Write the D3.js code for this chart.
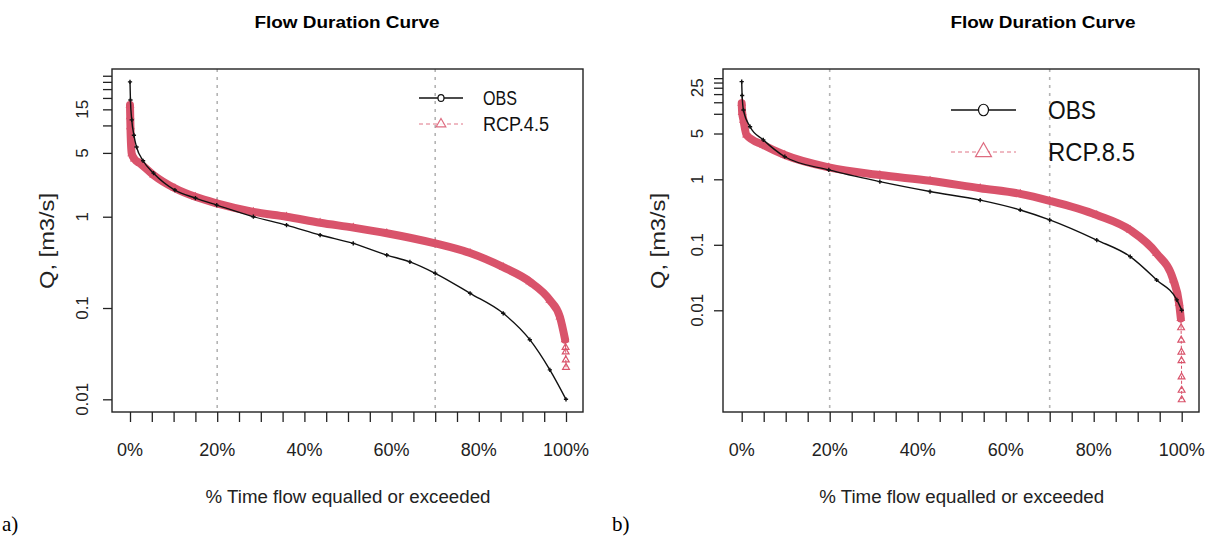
<!DOCTYPE html>
<html>
<head>
<meta charset="utf-8">
<script src="https://cdn.jsdelivr.net/npm/d3@7"></script>
<style>
  body { margin: 0; background: #fff; }
  svg { display: block; font-family: "Liberation Sans", Arial, sans-serif; }
</style>
</head>
<body>
<svg id="fig" width="1211" height="541"></svg>
<script>
// ---- data ----
const xTicks = [0, 5, 10, 15, 20, 25, 30, 35, 40, 45, 50, 55, 60, 65, 70, 75, 80, 85, 90, 95, 100];
const xTickLabels = [0, 20, 40, 60, 80, 100];
const refLines = [20, 70];
const yTicks = [0.01, 0.1, 1, 5, 10, 15, 20, 25, 30, 35];
const yLabelsA = [0.01, 0.1, 1, 5, 15];
const yLabelsB = [0.01, 0.1, 1, 5, 25];

// panel a) observed vs RCP 4.5
const pctObsA = [0, 0.1, 0.4, 0.9, 1.5, 3, 5.4, 10.3, 15, 19.9, 28.3, 35.9, 43.6, 51.2, 58.9, 64.2, 70, 78, 85.6, 91.7, 96.3, 100];
const obsA    = [30, 19, 11.5, 7.8, 5.8, 4.1, 3.0, 1.96, 1.6, 1.34, 1.0, 0.81, 0.63, 0.51, 0.38, 0.32, 0.24, 0.145, 0.0875, 0.045, 0.021, 0.01];
const pctRcp45 = [0, 0.05, 0.1, 0.4, 1, 2.3, 5.4, 10.3, 15, 19.9, 28.3, 35.9, 43.6, 51.2, 58.9, 70, 78, 85.6, 91.7, 96.3, 98.6, 99.8, 99.9, 99.93, 99.96, 100];
const rcp45    = [16.7, 12.5, 9.7, 4.9, 4.3, 3.85, 2.86, 2.05, 1.65, 1.40, 1.13, 1.0, 0.86, 0.76, 0.66, 0.51, 0.40, 0.28, 0.194, 0.122, 0.080, 0.045, 0.037, 0.033, 0.027, 0.0224];

// panel b) observed vs RCP 8.5
const pctObsB = [0, 0.1, 0.4, 1.9, 4.9, 9.8, 19.8, 31.4, 42.8, 54.2, 63.3, 70, 80.7, 88.3, 94.3, 98.9, 100];
const obsB    = [31, 19, 11.4, 6.35, 4.0, 2.21, 1.39, 0.92, 0.65, 0.48, 0.34, 0.24, 0.118, 0.066, 0.029, 0.0144, 0.01];
const pctRcp85 = [0, 0.1, 0.4, 1.1, 4.9, 9.8, 19.8, 31.4, 42.8, 54.2, 63.3, 70, 80.7, 88.3, 94.3, 98.1, 99.4, 99.8, 99.86, 99.9, 99.93, 99.95, 99.97, 99.98, 100];
const rcp85    = [14.5, 10.5, 8.0, 4.75, 3.34, 2.35, 1.52, 1.16, 0.95, 0.73, 0.60, 0.47, 0.285, 0.168, 0.074, 0.029, 0.0128, 0.0075, 0.0054, 0.0035, 0.0023, 0.0017, 0.00096, 0.0006, 0.00043];

const pink = "#d9536b";
const svg = d3.select("#fig");

function drawPanel(cfg) {
    const g = svg.append("g");
    const x = d3.scaleLinear().domain([0, 100]).range(cfg.xRange);
    const y = d3.scaleLog().domain(cfg.yDomain).range([cfg.box.y1, cfg.box.y0]);

    // title
    g.append("text")
        .attr("x", cfg.titleX).attr("y", 28)
        .attr("text-anchor", "middle")
        .attr("font-size", 16).attr("font-weight", "bold")
        .attr("textLength", 185).attr("lengthAdjust", "spacingAndGlyphs")
        .text("Flow Duration Curve");

    // x axis ticks
    const xAxis = d3.axisBottom(x).tickValues(xTicks).tickSize(10).tickFormat("");
    g.append("g")
        .attr("transform", "translate(0," + cfg.box.y1 + ")")
        .call(xAxis)
        .call(a => a.select(".domain").remove())
        .call(a => a.selectAll("line").attr("stroke", "#222").attr("stroke-width", 1.3));
    g.selectAll(".xlab").data(xTickLabels).enter().append("text")
        .attr("x", d => x(d)).attr("y", 456)
        .attr("text-anchor", "middle")
        .attr("font-size", 18).attr("fill", "#222")
        .text(d => d + "%");
    g.append("text")
        .attr("x", x(50)).attr("y", 503)
        .attr("text-anchor", "middle")
        .attr("font-size", 18).attr("fill", "#222")
        .attr("textLength", 285).attr("lengthAdjust", "spacingAndGlyphs")
        .text("% Time flow equalled or exceeded");

    // y axis ticks
    const yAxis = d3.axisLeft(y).tickValues(yTicks).tickSize(9).tickFormat("");
    g.append("g")
        .attr("transform", "translate(" + cfg.box.x0 + ",0)")
        .call(yAxis)
        .call(a => a.select(".domain").remove())
        .call(a => a.selectAll("line").attr("stroke", "#222").attr("stroke-width", 1.3));
    g.selectAll(".ylab").data(cfg.yLabels).enter().append("text")
        .attr("transform", d => "translate(" + cfg.yLabX + "," + y(d) + ") rotate(-90)")
        .attr("text-anchor", "middle")
        .attr("font-size", 17).attr("fill", "#222")
        .text(d => d);
    g.append("text")
        .attr("transform", "translate(" + cfg.yTitleX + ",241) rotate(-90)")
        .attr("text-anchor", "middle")
        .attr("font-size", 20).attr("fill", "#222")
        .attr("textLength", 96).attr("lengthAdjust", "spacingAndGlyphs")
        .text("Q, [m3/s]");

    // reference lines
    g.selectAll(".ref").data(refLines).enter().append("line")
        .attr("x1", d => x(d)).attr("x2", d => x(d))
        .attr("y1", cfg.box.y0).attr("y2", cfg.box.y1)
        .attr("stroke", "#b4b4b4").attr("stroke-width", 1.6)
        .attr("stroke-dasharray", "3,5");

    const line = d3.line().x(d => x(d[0])).y(d => y(d[1])).curve(d3.curveMonotoneX);

    // scenario: dense triangles form a band, the tail shows single points
    const rcp = d3.zip(cfg.pctRcp, cfg.rcp);
    g.append("path").datum(rcp.filter(d => d[1] >= cfg.bandMin))
        .attr("d", line).attr("fill", "none")
        .attr("stroke", pink).attr("stroke-width", 8)
        .attr("stroke-linejoin", "round").attr("stroke-linecap", "round");
    g.append("path").datum(rcp)
        .attr("d", line).attr("fill", "none")
        .attr("stroke", pink).attr("stroke-width", 1).attr("stroke-dasharray", "3,2");
    g.selectAll(".tri").data(rcp).enter().append("path")
        .attr("d", d3.symbol(d3.symbolTriangle, 20))
        .attr("transform", d => "translate(" + x(d[0]) + "," + y(d[1]) + ")")
        .attr("fill", "none").attr("stroke", pink).attr("stroke-width", 1.2);

    // observed
    const obs = d3.zip(cfg.pctObs, cfg.obs);
    g.append("path").datum(obs)
        .attr("d", line).attr("fill", "none")
        .attr("stroke", "#111").attr("stroke-width", 1.4);
    g.selectAll(".pt").data(obs).enter().append("path")
        .attr("d", d3.symbol(d3.symbolCross, 10))
        .attr("transform", d => "translate(" + x(d[0]) + "," + y(d[1]) + ")")
        .attr("fill", "#111");

    // box
    g.append("rect")
        .attr("x", cfg.box.x0).attr("y", cfg.box.y0)
        .attr("width", cfg.box.x1 - cfg.box.x0).attr("height", cfg.box.y1 - cfg.box.y0)
        .attr("fill", "none").attr("stroke", "#222").attr("stroke-width", 1.4);

    // legend
    const L = cfg.legend;
    const lg = g.append("g");
    lg.append("line").attr("x1", L.x0).attr("x2", L.x1).attr("y1", L.y0).attr("y2", L.y0)
        .attr("stroke", "#111").attr("stroke-width", 1.3);
    lg.append("ellipse").attr("cx", (L.x0 + L.x1) / 2).attr("cy", L.y0)
        .attr("rx", L.r).attr("ry", L.r * 1.15)
        .attr("fill", "#fff").attr("stroke", "#111").attr("stroke-width", 1.2);
    lg.append("line").attr("x1", L.x0).attr("x2", L.x1).attr("y1", L.y1).attr("y2", L.y1)
        .attr("stroke", pink).attr("stroke-width", 1).attr("stroke-dasharray", "4,3").attr("opacity", 0.8);
    lg.append("path")
        .attr("d", d3.symbol(d3.symbolTriangle, L.tri))
        .attr("transform", "translate(" + (L.x0 + L.x1) / 2 + "," + L.y1 + ")")
        .attr("fill", "#fff").attr("stroke", pink).attr("stroke-width", 1.2).attr("opacity", 0.85);
    lg.append("text").attr("x", L.tx).attr("y", L.y0 + L.fs * 0.36)
        .attr("font-size", L.fs).attr("fill", "#111")
        .attr("textLength", L.w0).attr("lengthAdjust", "spacingAndGlyphs")
        .text("OBS");
    lg.append("text").attr("x", L.tx).attr("y", L.y1 + L.fs * 0.36)
        .attr("font-size", L.fs).attr("fill", "#111")
        .attr("textLength", L.w1).attr("lengthAdjust", "spacingAndGlyphs")
        .text(cfg.name);

    // panel letter
    svg.append("text")
        .attr("x", cfg.letterX).attr("y", 531)
        .attr("font-family", "'Liberation Serif', 'Times New Roman', serif")
        .attr("font-size", 21).attr("fill", "#000")
        .text(cfg.letter);
}

drawPanel({
    box: {x0: 112, x1: 583, y0: 69, y1: 412},
    xRange: [130, 566],
    yDomain: [Math.pow(10, -2.139), Math.pow(10, 1.618)],
    yLabels: yLabelsA, yLabX: 88, yTitleX: 54, titleX: 347,
    pctObs: pctObsA, obs: obsA, pctRcp: pctRcp45, rcp: rcp45, bandMin: 0.045,
    name: "RCP.4.5",
    legend: {x0: 419, x1: 463, y0: 98, y1: 124, r: 3, tri: 40, tx: 483, fs: 20, w0: 34, w1: 66},
    letter: "a)", letterX: 2
});

drawPanel({
    box: {x0: 723, x1: 1199, y0: 69, y1: 412},
    xRange: [741.7, 1181.7],
    yDomain: [Math.pow(10, -3.553), Math.pow(10, 1.684)],
    yLabels: yLabelsB, yLabX: 703, yTitleX: 665, titleX: 1043,
    pctObs: pctObsB, obs: obsB, pctRcp: pctRcp85, rcp: rcp85, bandMin: 0.0075,
    name: "RCP.8.5",
    legend: {x0: 951, x1: 1016, y0: 110, y1: 152, r: 5, tri: 110, tx: 1048, fs: 25, w0: 48, w1: 87},
    letter: "b)", letterX: 612
});
</script>
</body>
</html>
